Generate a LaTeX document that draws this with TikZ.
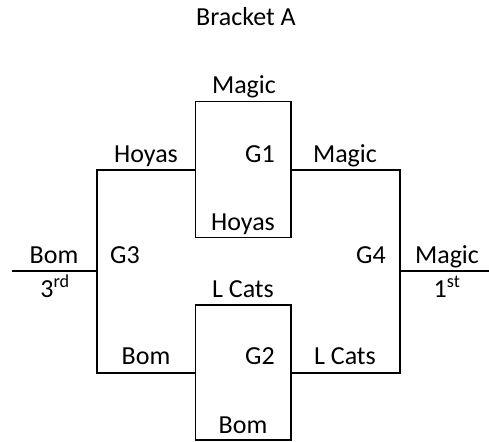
\documentclass[tikz,border=0pt]{standalone}
\usepackage{fontspec}
\setmainfont{Carlito}
\begin{document}
\begin{tikzpicture}[x=1pt,y=-1pt,
  lbl/.style={anchor=base,inner sep=0pt,font=\fontsize{26}{30}\selectfont},
  wire/.style={draw=black,line width=1.5pt,line cap=rect}]
\useasboundingbox (0,0) rectangle (489,441);
% coordinates
\coordinate (g1tl) at (195.5,101.5);
\coordinate (g1br) at (291,237.5);
\coordinate (g2tl) at (195.5,305);
\coordinate (g2br) at (291,440);
\coordinate (g1l) at (195.5,170);
\coordinate (g1r) at (291,170);
\coordinate (g2l) at (195.5,373);
\coordinate (g2r) at (291,373);
\coordinate (g3t) at (97,170);
\coordinate (g3b) at (97,373);
\coordinate (g3m) at (97,271);
\coordinate (g4t) at (400,170);
\coordinate (g4b) at (400,373);
\coordinate (g4m) at (400,271);
\coordinate (lend) at (12,271);
\coordinate (rend) at (489,271);
% boxes
\draw[wire] (g1tl) rectangle (g1br);
\draw[wire] (g2tl) rectangle (g2br);
% bracket lines
\draw[wire] (g1l) -- (g3t) -- (g3b) -- (g2l);
\draw[wire] (g1r) -- (g4t) -- (g4b) -- (g2r);
\draw[wire,line cap=butt] (lend) -- (g3m);
\draw[wire,line cap=butt] (g4m) -- (rend);
% labels
\node[lbl] (title) at (246,26) {Bracket A};
\node[lbl] (g1top) at (244,94) {Magic};
\node[lbl] (g1bot) at (243,230) {Hoyas};
\node[lbl] (g1) at (260,162) {G1};
\node[lbl] (hoyas) at (146,162) {Hoyas};
\node[lbl] (magic) at (345,162) {Magic};
\node[lbl] (g2top) at (243,297) {L Cats};
\node[lbl] (g2bot) at (243,433) {Bom};
\node[lbl] (g2) at (260,364) {G2};
\node[lbl] (bom) at (146,364) {Bom};
\node[lbl] (lcats) at (345,364) {L Cats};
\node[lbl] (g3) at (125,263) {G3};
\node[lbl] (g4) at (371,263) {G4};
\node[lbl] (third) at (54,263) {Bom};
\node[lbl] (thirdp) at (55,297) {3\textsuperscript{rd}};
\node[lbl] (first) at (447,263) {Magic};
\node[lbl] (firstp) at (447,297) {1\textsuperscript{st}};
\end{tikzpicture}
\end{document}
